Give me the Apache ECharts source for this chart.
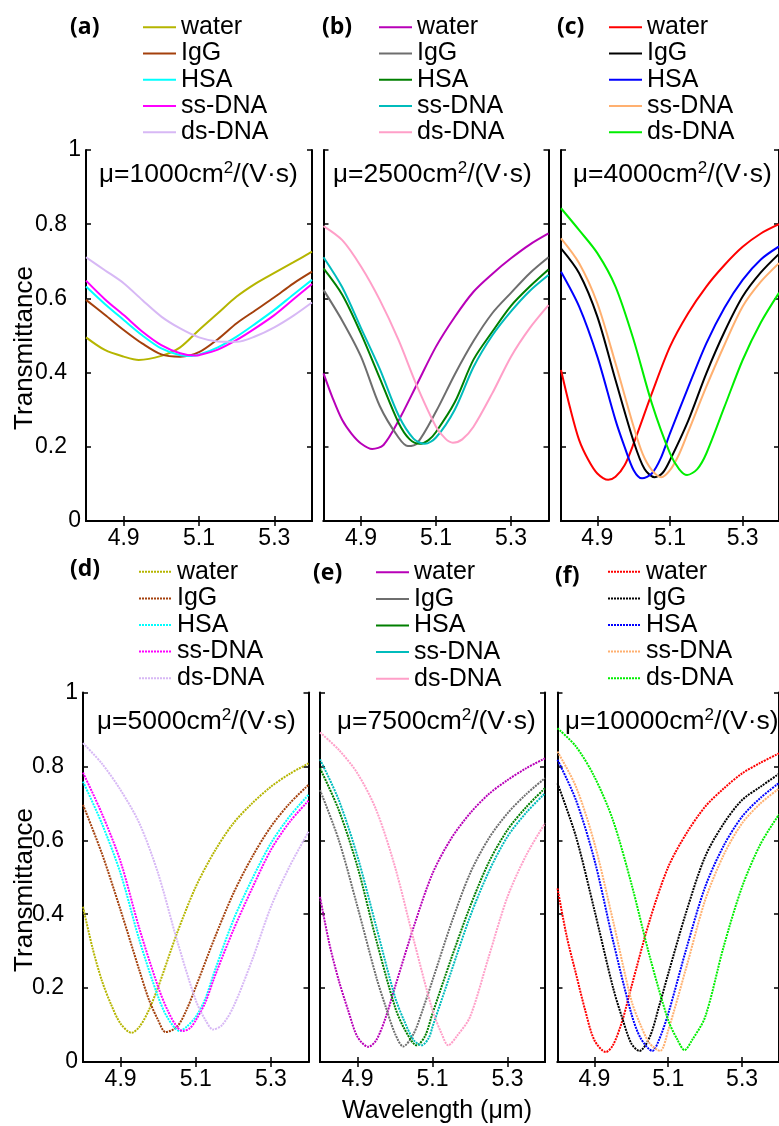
<!DOCTYPE html>
<html><head><meta charset="utf-8">
<script src="https://cdn.jsdelivr.net/npm/echarts@6/dist/echarts.min.js"></script>
<style>html,body{margin:0;padding:0;background:#fff}#c{width:779px;height:1126px}</style>
</head><body><div id="c"></div>
<script>
// ---------- labels ----------
const categories = ['water', 'IgG', 'HSA', 'ss-DNA', 'ds-DNA'];
const panelLabels = ['(a)', '(b)', '(c)', '(d)', '(e)', '(f)'];
const mobilities = ['1000', '2500', '4000', '5000', '7500', '10000'];
const xTicks = [4.9, 5.1, 5.3];
const xRange = [4.8, 5.4];
const yRange = [0, 1];
const yStep = 0.2;

// ---------- data: [wavelength (um), transmittance] ----------
// (a) mu = 1000
const a_water = [[4.8,0.495],[4.85,0.461],[4.9,0.443],[4.94,0.434],[5.0,0.445],[5.05,0.468],[5.1,0.515],[5.15,0.56],[5.2,0.605],[5.25,0.64],[5.3,0.669],[5.35,0.697],[5.4,0.726]];
const a_IgG = [[4.8,0.596],[4.85,0.556],[4.9,0.515],[4.95,0.478],[5.0,0.449],[5.05,0.443],[5.1,0.455],[5.15,0.49],[5.2,0.533],[5.25,0.568],[5.3,0.603],[5.35,0.64],[5.4,0.672]];
const a_HSA = [[4.8,0.632],[4.85,0.585],[4.9,0.542],[4.95,0.5],[5.0,0.465],[5.05,0.447],[5.08,0.445],[5.1,0.448],[5.15,0.468],[5.2,0.497],[5.25,0.532],[5.3,0.569],[5.35,0.61],[5.4,0.65]];
const a_ss = [[4.8,0.648],[4.85,0.598],[4.9,0.555],[4.95,0.51],[5.0,0.474],[5.05,0.452],[5.09,0.446],[5.1,0.447],[5.15,0.462],[5.2,0.488],[5.25,0.52],[5.3,0.555],[5.35,0.597],[5.4,0.639]];
const a_ds = [[4.8,0.711],[4.85,0.676],[4.9,0.641],[4.95,0.595],[5.0,0.551],[5.05,0.519],[5.1,0.495],[5.15,0.484],[5.2,0.483],[5.25,0.498],[5.3,0.522],[5.35,0.553],[5.4,0.589]];
// (b) mu = 2500
const b_water = [[4.8,0.398],[4.825,0.33],[4.85,0.272],[4.875,0.235],[4.9,0.209],[4.93,0.194],[4.96,0.205],[5.0,0.27],[5.05,0.37],[5.1,0.47],[5.15,0.55],[5.2,0.618],[5.25,0.666],[5.3,0.708],[5.35,0.745],[5.4,0.775]];
const b_IgG = [[4.8,0.623],[4.85,0.54],[4.9,0.443],[4.95,0.31],[5.0,0.225],[5.025,0.202],[5.05,0.21],[5.1,0.295],[5.15,0.395],[5.2,0.485],[5.25,0.56],[5.3,0.615],[5.35,0.668],[5.4,0.711]];
const b_HSA = [[4.8,0.681],[4.85,0.61],[4.9,0.505],[4.95,0.385],[5.0,0.265],[5.03,0.22],[5.056,0.208],[5.08,0.218],[5.1,0.24],[5.15,0.32],[5.2,0.435],[5.25,0.51],[5.3,0.58],[5.35,0.632],[5.4,0.678]];
const b_ss = [[4.8,0.711],[4.85,0.63],[4.9,0.52],[4.95,0.41],[5.0,0.285],[5.04,0.222],[5.07,0.208],[5.1,0.225],[5.15,0.3],[5.2,0.415],[5.25,0.5],[5.3,0.565],[5.35,0.62],[5.4,0.663]];
const b_ds = [[4.8,0.795],[4.85,0.757],[4.9,0.686],[4.95,0.596],[5.0,0.488],[5.05,0.362],[5.1,0.254],[5.125,0.222],[5.145,0.211],[5.17,0.22],[5.2,0.254],[5.25,0.344],[5.3,0.443],[5.35,0.52],[5.4,0.582]];
// (c) mu = 4000
const c_water = [[4.8,0.407],[4.825,0.305],[4.85,0.218],[4.875,0.165],[4.9,0.128],[4.93,0.111],[4.95,0.119],[4.975,0.15],[5.0,0.209],[5.05,0.344],[5.1,0.47],[5.15,0.56],[5.2,0.632],[5.25,0.69],[5.3,0.739],[5.35,0.775],[5.4,0.8]];
const c_IgG = [[4.8,0.735],[4.85,0.668],[4.9,0.551],[4.95,0.38],[5.0,0.214],[5.03,0.14],[5.058,0.118],[5.08,0.13],[5.1,0.164],[5.15,0.27],[5.2,0.398],[5.25,0.51],[5.3,0.605],[5.35,0.67],[5.4,0.72]];
const c_HSA = [[4.8,0.672],[4.85,0.578],[4.9,0.443],[4.95,0.272],[4.975,0.2],[5.0,0.137],[5.023,0.115],[5.05,0.128],[5.075,0.17],[5.1,0.236],[5.15,0.36],[5.2,0.479],[5.25,0.575],[5.3,0.65],[5.35,0.705],[5.4,0.74]];
const c_ss = [[4.8,0.762],[4.85,0.695],[4.9,0.587],[4.95,0.425],[5.0,0.254],[5.025,0.18],[5.05,0.137],[5.076,0.118],[5.1,0.137],[5.125,0.18],[5.15,0.24],[5.2,0.362],[5.25,0.475],[5.3,0.578],[5.35,0.645],[5.4,0.695]];
const c_ds = [[4.8,0.843],[4.85,0.784],[4.9,0.722],[4.95,0.632],[5.0,0.488],[5.05,0.317],[5.1,0.182],[5.125,0.14],[5.147,0.124],[5.175,0.14],[5.2,0.182],[5.25,0.308],[5.3,0.434],[5.35,0.535],[5.4,0.615]];
// (d) mu = 5000
const d_water = [[4.8,0.42],[4.825,0.31],[4.85,0.221],[4.875,0.155],[4.9,0.104],[4.929,0.079],[4.95,0.095],[4.975,0.14],[5.0,0.203],[5.05,0.348],[5.1,0.474],[5.15,0.57],[5.2,0.646],[5.25,0.7],[5.3,0.745],[5.35,0.78],[5.4,0.808]];
const d_IgG = [[4.8,0.696],[4.85,0.565],[4.9,0.411],[4.95,0.248],[4.975,0.17],[5.0,0.113],[5.02,0.081],[5.05,0.095],[5.075,0.14],[5.1,0.203],[5.15,0.335],[5.2,0.456],[5.25,0.555],[5.3,0.637],[5.35,0.7],[5.4,0.75]];
const d_HSA = [[4.8,0.759],[4.85,0.646],[4.9,0.51],[4.95,0.33],[5.0,0.176],[5.025,0.12],[5.057,0.084],[5.075,0.095],[5.1,0.122],[5.125,0.17],[5.15,0.245],[5.2,0.384],[5.25,0.495],[5.3,0.592],[5.35,0.665],[5.4,0.723]];
const d_ss = [[4.8,0.783],[4.85,0.673],[4.9,0.542],[4.95,0.361],[5.0,0.203],[5.025,0.14],[5.05,0.095],[5.066,0.084],[5.085,0.092],[5.1,0.113],[5.125,0.16],[5.15,0.23],[5.2,0.357],[5.25,0.47],[5.3,0.574],[5.35,0.65],[5.4,0.707]];
const d_ds = [[4.8,0.863],[4.85,0.808],[4.9,0.736],[4.95,0.646],[5.0,0.51],[5.05,0.33],[5.1,0.167],[5.125,0.115],[5.146,0.088],[5.17,0.1],[5.2,0.149],[5.25,0.276],[5.3,0.42],[5.35,0.53],[5.4,0.623]];
// (e) mu = 7500
const e_water = [[4.8,0.447],[4.825,0.32],[4.85,0.221],[4.875,0.14],[4.9,0.068],[4.929,0.041],[4.95,0.059],[4.975,0.12],[5.0,0.203],[5.05,0.366],[5.1,0.51],[5.15,0.605],[5.2,0.673],[5.25,0.725],[5.3,0.763],[5.35,0.795],[5.4,0.822]];
const e_IgG = [[4.8,0.736],[4.85,0.601],[4.9,0.42],[4.95,0.23],[4.975,0.15],[5.0,0.077],[5.022,0.042],[5.05,0.077],[5.075,0.145],[5.1,0.221],[5.15,0.375],[5.2,0.51],[5.25,0.605],[5.3,0.673],[5.35,0.725],[5.4,0.768]];
const e_HSA = [[4.8,0.795],[4.85,0.682],[4.9,0.528],[4.95,0.33],[5.0,0.149],[5.025,0.09],[5.058,0.045],[5.08,0.07],[5.1,0.131],[5.15,0.28],[5.2,0.42],[5.25,0.54],[5.3,0.628],[5.35,0.69],[5.4,0.741]];
const e_ss = [[4.8,0.819],[4.85,0.709],[4.9,0.556],[4.95,0.366],[5.0,0.176],[5.025,0.11],[5.05,0.059],[5.071,0.045],[5.09,0.065],[5.1,0.095],[5.15,0.245],[5.2,0.393],[5.25,0.515],[5.3,0.61],[5.35,0.675],[5.4,0.727]];
const e_ds = [[4.8,0.892],[4.85,0.845],[4.9,0.781],[4.95,0.682],[5.0,0.528],[5.05,0.33],[5.1,0.14],[5.125,0.075],[5.142,0.045],[5.165,0.07],[5.2,0.122],[5.25,0.285],[5.3,0.447],[5.35,0.56],[5.4,0.646]];
// (f) mu = 10000
const f_water = [[4.8,0.47],[4.825,0.34],[4.85,0.239],[4.875,0.14],[4.9,0.059],[4.931,0.027],[4.95,0.045],[4.975,0.11],[5.0,0.203],[5.05,0.384],[5.1,0.528],[5.15,0.62],[5.2,0.691],[5.25,0.74],[5.3,0.781],[5.35,0.81],[5.4,0.835]];
const f_IgG = [[4.8,0.754],[4.85,0.61],[4.9,0.411],[4.95,0.203],[4.975,0.12],[5.0,0.05],[5.022,0.03],[5.05,0.068],[5.075,0.15],[5.1,0.239],[5.15,0.41],[5.2,0.556],[5.25,0.645],[5.3,0.709],[5.35,0.745],[5.4,0.78]];
const f_HSA = [[4.8,0.818],[4.85,0.709],[4.9,0.547],[4.95,0.33],[5.0,0.131],[5.025,0.065],[5.057,0.03],[5.075,0.06],[5.1,0.131],[5.15,0.31],[5.2,0.474],[5.25,0.585],[5.3,0.664],[5.35,0.715],[5.4,0.755]];
const f_ss = [[4.8,0.84],[4.85,0.745],[4.9,0.592],[4.95,0.384],[5.0,0.167],[5.025,0.1],[5.05,0.05],[5.078,0.03],[5.1,0.086],[5.15,0.26],[5.2,0.438],[5.25,0.56],[5.3,0.646],[5.35,0.7],[5.4,0.74]];
const f_ds = [[4.8,0.903],[4.85,0.854],[4.9,0.772],[4.95,0.655],[5.0,0.483],[5.05,0.285],[5.1,0.113],[5.125,0.06],[5.144,0.032],[5.165,0.06],[5.2,0.122],[5.25,0.312],[5.3,0.474],[5.35,0.59],[5.4,0.67]];

// ---------- styles / layout ----------
const paletteA = ['#b5b500', '#a4400c', '#00ffff', '#ff00ff', '#d7b8f5'];
const paletteB = ['#b800b8', '#6e6e6e', '#007f00', '#00bcbc', '#ff9fc8'];
const paletteC = ['#ff0000', '#000000', '#0000ff', '#ffb070', '#00ee00'];

const panels = [
  {curves: [a_water, a_IgG, a_HSA, a_ss, a_ds], colors: paletteA, dotted: false, grid: {left: 86, top: 150, width: 226, height: 371}, legend: {left: 142, top: 14}, label: [70, 30], note: [99, 175], yLabels: true},
  {curves: [b_water, b_IgG, b_HSA, b_ss, b_ds], colors: paletteB, dotted: false, grid: {left: 323.5, top: 150, width: 225, height: 371}, legend: {left: 378, top: 14}, label: [322, 30], note: [333, 175], yLabels: false},
  {curves: [c_water, c_IgG, c_HSA, c_ss, c_ds], colors: paletteC, dotted: false, grid: {left: 561, top: 150, width: 226, height: 371}, legend: {left: 608, top: 14}, label: [557, 30], note: [573, 175], yLabels: false},
  {curves: [d_water, d_IgG, d_HSA, d_ss, d_ds], colors: paletteA, dotted: true, grid: {left: 83, top: 692.5, width: 225.5, height: 369.5}, legend: {left: 138, top: 558.5}, label: [70, 572], note: [97, 722], yLabels: true},
  {curves: [e_water, e_IgG, e_HSA, e_ss, e_ds], colors: paletteB, dotted: true, grid: {left: 320, top: 692.5, width: 225, height: 369.5}, legend: {left: 375, top: 559, solid: true}, label: [313, 576], note: [337, 722], yLabels: false},
  {curves: [f_water, f_IgG, f_HSA, f_ss, f_ds], colors: paletteC, dotted: true, grid: {left: 557.5, top: 692.5, width: 225.5, height: 369.5}, legend: {left: 607, top: 558.5}, label: [555, 579], note: [565, 722], yLabels: false}
];

const FONT = 'Liberation Sans';
const grids = [], xAxes = [], yAxes = [], series = [], legends = [], graphics = [];

panels.forEach((p, i) => {
  grids.push(Object.assign({containLabel: false}, p.grid));
  const axLine = {show: true, lineStyle: {color: '#000', width: 2}};
  const tick = {show: true, inside: true, length: 5, lineStyle: {color: '#000', width: 1.5}};
  xAxes.push({
    type: 'value', gridIndex: i, min: xRange[0], max: xRange[1], position: 'bottom',
    axisLine: axLine, splitLine: {show: false},
    axisTick: Object.assign({customValues: xTicks}, tick),
    axisLabel: {customValues: xTicks, color: '#000', fontSize: 23, fontFamily: FONT, margin: 6,
      formatter: v => v.toFixed(1)}
  });
  xAxes.push({
    type: 'value', gridIndex: i, min: xRange[0], max: xRange[1], position: 'top',
    axisLine: axLine, splitLine: {show: false},
    axisTick: Object.assign({customValues: xTicks}, tick),
    axisLabel: {show: false}
  });
  yAxes.push({
    type: 'value', gridIndex: i, min: yRange[0], max: yRange[1], interval: yStep, position: 'left',
    axisLine: axLine, splitLine: {show: false}, axisTick: tick,
    axisLabel: {show: p.yLabels, color: '#000', fontSize: 23, fontFamily: FONT, margin: 5,
      formatter: v => {
        const r = Math.round(v * 10) / 10;
        return (r === 0 || r === 1) ? '{e|' + r + '}' : '{d|' + r + '}';
      },
      rich: {
        e: {fontSize: 23, fontFamily: FONT, color: '#000'},
        d: {fontSize: 23, fontFamily: FONT, color: '#000', padding: [0, 14, 0, 0]}
      }}
  });
  yAxes.push({
    type: 'value', gridIndex: i, min: yRange[0], max: yRange[1], interval: yStep, position: 'right',
    axisLine: axLine, splitLine: {show: false}, axisTick: tick, axisLabel: {show: false}
  });
  p.curves.forEach((data, k) => {
    series.push({
      type: 'line', name: panelLabels[i] + '|' + categories[k],
      xAxisIndex: 2 * i, yAxisIndex: 2 * i,
      data: data, symbol: 'none', showSymbol: false, smooth: 0.3,
      color: p.colors[k],
      lineStyle: {color: p.colors[k], width: 2, type: p.dotted ? [2, 1] : 'solid'},
      emphasis: {disabled: true}, silent: true, z: 2 + k
    });
  });
  legends.push({
    orient: 'vertical', left: p.legend.left, top: p.legend.top, padding: 0, itemGap: 0,
    itemWidth: 33, itemHeight: 2, selectedMode: false,
    data: categories.map(c => panelLabels[i] + '|' + c),
    formatter: n => n.split('|')[1],
    itemStyle: {opacity: 0},
    lineStyle: p.legend.solid ? {type: 'solid'} : {},
    textStyle: {fontSize: 25, fontFamily: FONT, color: '#000', lineHeight: i < 3 ? 26.3 : 26.6}
  });
  graphics.push({
    type: 'text', left: p.label[0], top: p.label[1] - 14,
    style: {text: panelLabels[i], font: 'bold 23px "Open Sans"', fill: '#000'}
  });
  graphics.push({
    type: 'text', x: p.note[0], y: p.note[1],
    style: {
      text: '{m|μ}{a|=' + mobilities[i] + 'cm}{s|2}{a|/(V·s)}',
      verticalAlign: 'middle', align: 'left',
      rich: {
        m: {fontSize: 26, fontFamily: FONT, fill: '#000', lineHeight: 30},
        a: {fontSize: 26.5, fontFamily: FONT, fill: '#000', lineHeight: 30},
        s: {fontSize: 17, fontFamily: FONT, fill: '#000', lineHeight: 30, verticalAlign: 'top'}
      }
    }
  });
});

graphics.push({type: 'text', x: 25, y: 348, rotation: Math.PI / 2,
  style: {text: 'Transmittance', fontSize: 26, fontFamily: FONT, fill: '#000', align: 'center', verticalAlign: 'middle'}});
graphics.push({type: 'text', x: 25, y: 890, rotation: Math.PI / 2,
  style: {text: 'Transmittance', fontSize: 26, fontFamily: FONT, fill: '#000', align: 'center', verticalAlign: 'middle'}});
graphics.push({type: 'text', x: 437, y: 1111,
  style: {text: 'Wavelength (μm)', fontSize: 25, fontFamily: FONT, fill: '#000', align: 'center', verticalAlign: 'middle'}});

const chart = echarts.init(document.getElementById('c'), null, {renderer: 'canvas'});
chart.setOption({
  animation: false, backgroundColor: '#fff',
  grid: grids, xAxis: xAxes, yAxis: yAxes, series: series, legend: legends, graphic: graphics
});
</script>
</body></html>
